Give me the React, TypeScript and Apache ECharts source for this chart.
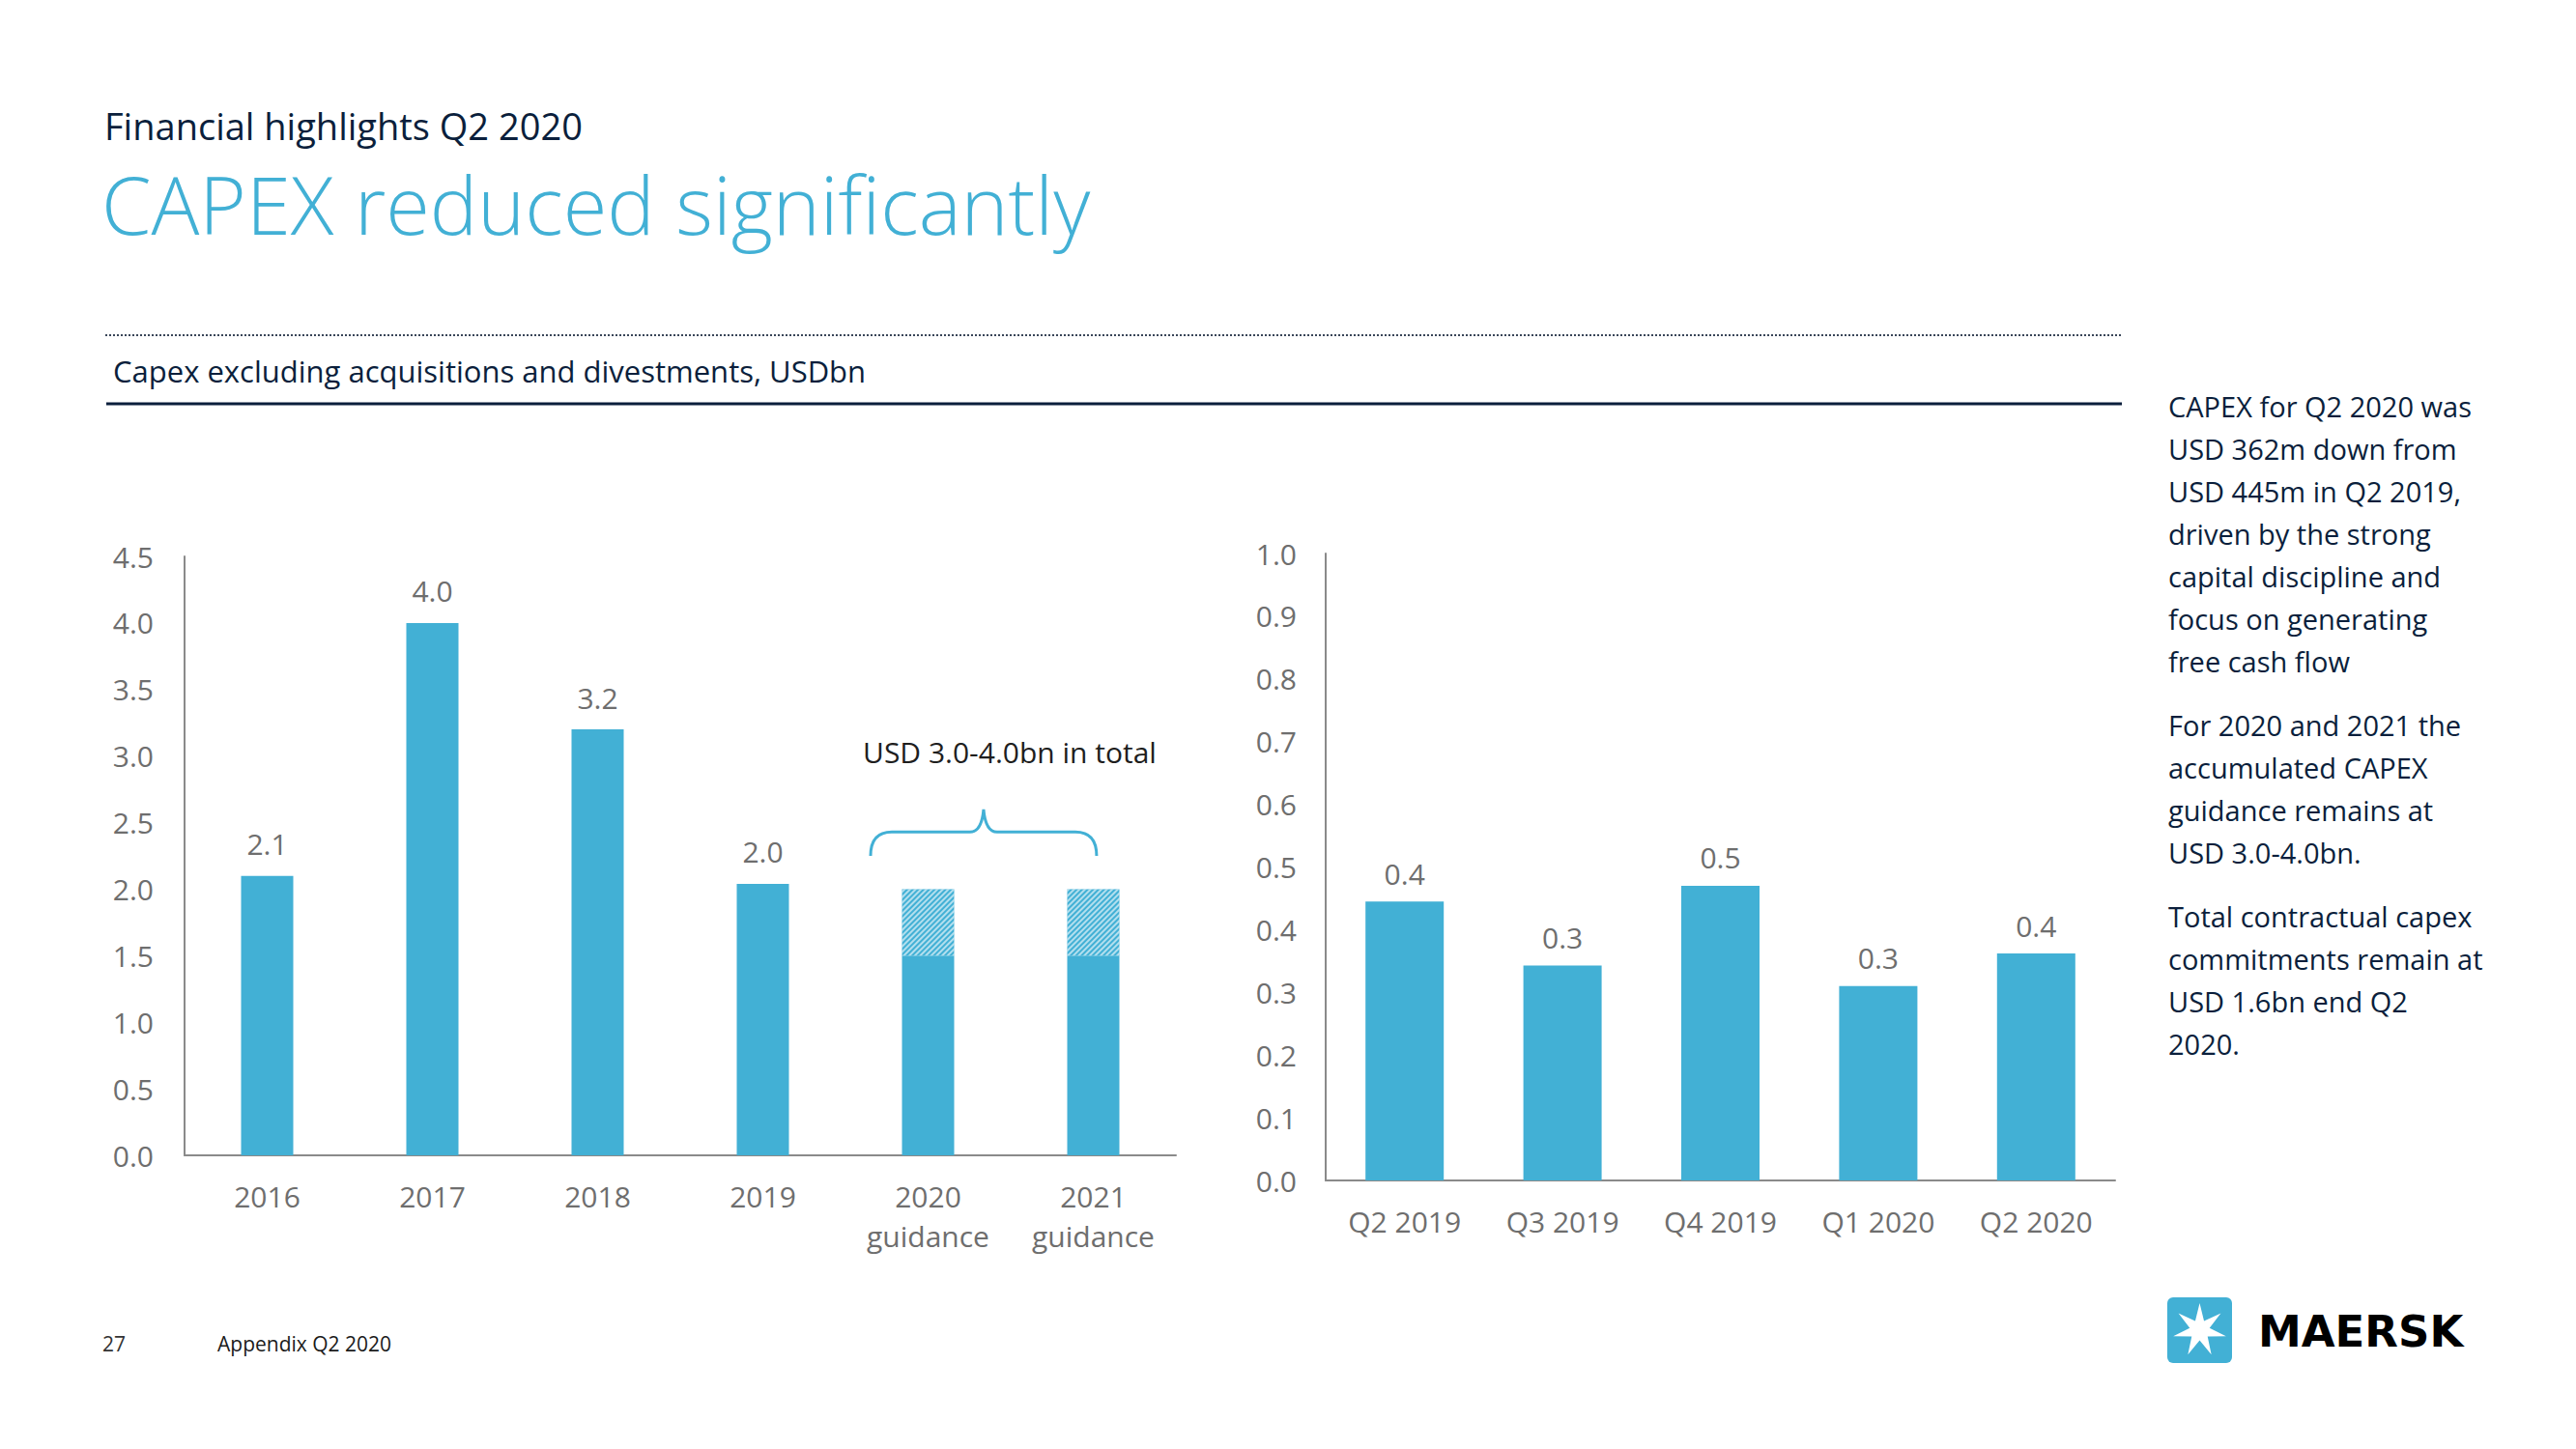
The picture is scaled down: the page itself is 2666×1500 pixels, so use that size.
import React, { useEffect, useRef } from 'react';
import * as echarts from 'echarts';

// ---------- data ----------
const leftCategories = ['2016', '2017', '2018', '2019', '2020\nguidance', '2021\nguidance'];
const leftSolid = [2.1, 4.0, 3.2, 2.04, 1.5, 1.5];
const leftHatched = [null, null, null, null, 0.5, 0.5];
const leftAxis = { min: 0, max: 4.5, interval: 0.5 };

const rightCategories = ['Q2 2019', 'Q3 2019', 'Q4 2019', 'Q1 2020', 'Q2 2020'];
const rightValues = [0.445, 0.343, 0.47, 0.31, 0.362];
const rightAxis = { min: 0, max: 1.0, interval: 0.1 };

const kicker = 'Financial highlights Q2 2020';
const title = 'CAPEX reduced significantly';
const subtitle = 'Capex excluding acquisitions and divestments, USDbn';
const guidanceNote = 'USD 3.0-4.0bn in total';
const commentary = [
  ['CAPEX for Q2 2020 was', 'USD 362m down from', 'USD 445m in Q2 2019,', 'driven by the strong', 'capital discipline and', 'focus on generating', 'free cash flow'],
  ['For 2020 and 2021 the', 'accumulated CAPEX', 'guidance remains at', 'USD 3.0-4.0bn.'],
  ['Total contractual capex', 'commitments remain at', 'USD 1.6bn end Q2', '2020.'],
];
const pageNumber = '27';
const footer = 'Appendix Q2 2020';
const brand = 'MAERSK';

// ---------- styles ----------
const BLUE = '#42b0d5';
const NAVY = '#0b1f3c';
const GREY = '#6e6e6e';
const AXIS = '#8a8a8a';
const FONT = '"Open Sans", "Noto Sans", sans-serif';

const fmt1 = (v: number) => Number(v).toFixed(1);

function App() {
  const ref = useRef<HTMLDivElement>(null);

  useEffect(() => {
    if (!ref.current) return;
    const chart = echarts.init(ref.current, undefined, { renderer: 'svg' });

    const axisLabel = { color: GREY, fontSize: 30, fontFamily: FONT };
    const axisLine = { show: true, lineStyle: { color: AXIS, width: 2 } };

    const option: any = {
      animation: false,
      backgroundColor: '#ffffff',
      textStyle: { fontFamily: FONT },
      grid: [
        { left: 191, top: 576, width: 1026, height: 620, containLabel: false },
        { left: 1372, top: 573, width: 817, height: 649, containLabel: false },
      ],
      xAxis: [
        {
          type: 'category', gridIndex: 0, data: leftCategories,
          axisLine, axisTick: { show: false },
          axisLabel: { ...axisLabel, lineHeight: 41, margin: 22 },
        },
        {
          type: 'category', gridIndex: 1, data: rightCategories,
          axisLine, axisTick: { show: false },
          axisLabel: { ...axisLabel, lineHeight: 41, margin: 22 },
        },
      ],
      yAxis: [
        {
          type: 'value', gridIndex: 0, ...leftAxis,
          axisLine, axisTick: { show: false }, splitLine: { show: false },
          axisLabel: { ...axisLabel, margin: 32, formatter: fmt1 },
        },
        {
          type: 'value', gridIndex: 1, ...rightAxis,
          axisLine, axisTick: { show: false }, splitLine: { show: false },
          axisLabel: { ...axisLabel, margin: 30, formatter: fmt1 },
        },
      ],
      series: [
        {
          type: 'bar', xAxisIndex: 0, yAxisIndex: 0, stack: 'capex', barWidth: 54,
          data: leftSolid.map((v, i) => ({ value: v, label: { show: leftHatched[i] == null } })),
          itemStyle: { color: BLUE },
          label: {
            show: true, position: 'top', distance: 18, color: GREY, fontSize: 30, fontFamily: FONT,
            formatter: (p: any) => fmt1(p.value),
          },
        },
        {
          type: 'bar', xAxisIndex: 0, yAxisIndex: 0, stack: 'capex', barWidth: 54,
          data: leftHatched,
          itemStyle: {
            color: BLUE,
            decal: {
              symbol: 'rect', symbolSize: 1, color: 'rgba(255,255,255,0.6)',
              dashArrayX: [1, 0], dashArrayY: [2, 2], rotation: -Math.PI / 4,
            },
          },
        },
        {
          type: 'bar', xAxisIndex: 1, yAxisIndex: 1, barWidth: 81,
          data: rightValues,
          itemStyle: { color: BLUE },
          label: {
            show: true, position: 'top', distance: 14, color: GREY, fontSize: 30, fontFamily: FONT,
            formatter: (p: any) => fmt1(p.value),
          },
        },
      ],
    };
    chart.setOption(option);

    // ---------- annotation geometry from the left chart's axes ----------
    const cx4 = chart.convertToPixel({ xAxisIndex: 0 }, 4) as number;
    const cx5 = chart.convertToPixel({ xAxisIndex: 0 }, 5) as number;
    const band = cx5 - cx4;
    const L = cx4 - 0.348 * band;
    const R = cx5 + 0.02 * band;
    const M = (L + R) / 2;
    const yE = chart.convertToPixel({ yAxisIndex: 0 }, 2.25) as number;
    const yH = chart.convertToPixel({ yAxisIndex: 0 }, 2.43) as number;
    const yP = chart.convertToPixel({ yAxisIndex: 0 }, 2.6) as number;
    const yT = chart.convertToPixel({ yAxisIndex: 0 }, 3.03) as number;
    const d =
      `M${L},${yE} Q${L},${yH} ${L + 22},${yH} L${M - 14},${yH} Q${M - 2},${yH} ${M},${yP} ` +
      `Q${M + 2},${yH} ${M + 14},${yH} L${R - 22},${yH} Q${R},${yH} ${R},${yE}`;
    echarts.graphic.registerShape('capexBrace', echarts.graphic.extendPath(d, {}) as any);

    // star for logo
    const starCx = 2276.5, starCy = 1377, rOut = 28, rIn = 10.5;
    const starPts: number[][] = [];
    for (let k = 0; k < 14; k++) {
      const a = -Math.PI / 2 + (k * Math.PI) / 7;
      const r = k % 2 === 0 ? rOut : rIn;
      starPts.push([starCx + r * Math.cos(a), starCy + r * Math.sin(a)]);
    }

    const txt = (x: number, y: number, text: string, size: number, fill: string, extra: any = {}) => ({
      type: 'text', x, y, silent: true,
      style: {
        text, fill, fontSize: size, lineHeight: size, fontFamily: FONT,
        textVerticalAlign: 'middle', textAlign: 'left', ...extra,
      },
    });

    const elements: any[] = [
      txt(108, 130, kicker, 38, NAVY),
      txt(105, 210, title, 83, BLUE, { fontWeight: 300 }),
      {
        type: 'line', silent: true,
        shape: { x1: 109, y1: 347, x2: 2196, y2: 347 },
        style: { stroke: '#3a4659', lineWidth: 2, lineDash: [2, 2] },
      },
      txt(117, 384, subtitle, 31, NAVY),
      {
        type: 'line', silent: true,
        shape: { x1: 110, y1: 418, x2: 2196, y2: 418 },
        style: { stroke: NAVY, lineWidth: 3 },
      },
      {
        type: 'capexBrace', silent: true, x: 0, y: 0,
        style: { fill: 'none', stroke: BLUE, lineWidth: 3 },
      },
      txt(cx4 + 0.494 * band, yT, guidanceNote, 30, '#1e1e1e', { textAlign: 'center' }),
      txt(106, 1391, pageNumber, 21, '#333333'),
      txt(225, 1391, footer, 21, '#1a1a1a'),
      {
        type: 'rect', silent: true,
        shape: { x: 2243, y: 1343, width: 67, height: 68, r: 6 },
        style: { fill: BLUE },
      },
      { type: 'polygon', silent: true, shape: { points: starPts }, style: { fill: '#ffffff' } },
      txt(2337, 1378, brand, 45, '#000000', { fontWeight: 'bold', fontFamily: '"DejaVu Sans", sans-serif' }),
    ];

    const paraTops = [398, 728, 926];
    commentary.forEach((lines, i) => {
      elements.push({
        type: 'text', x: 2244, y: paraTops[i], silent: true,
        style: {
          text: lines.join('\n'), fill: NAVY, fontSize: 29, fontFamily: FONT,
          lineHeight: 44, textVerticalAlign: 'top', textAlign: 'left',
        },
      });
    });

    chart.setOption({ graphic: { elements } });

    return () => chart.dispose();
  }, []);

  return (
    <div
      ref={ref}
      style={{ position: 'absolute', left: 0, top: 0, width: 2666, height: 1500, background: '#fff' }}
    />
  );
}

export default App;
